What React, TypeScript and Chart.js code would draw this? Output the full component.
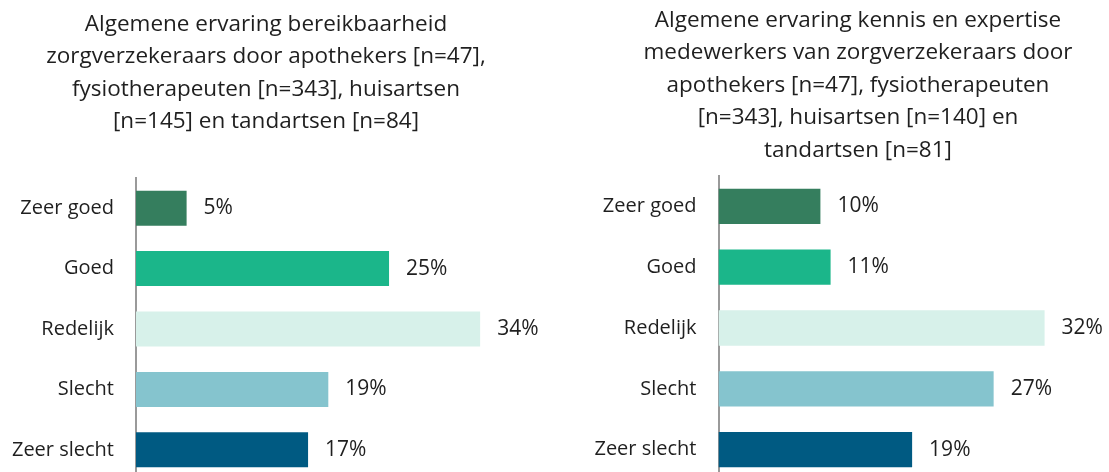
import React, { useEffect, useRef } from "react";
import { Chart, registerables } from "chart.js";

Chart.register(...registerables);

const FONT = "'Open Sans', Lato, sans-serif";
const TEXT_COLOR = "#1f1f1f";

const categories = ["Zeer goed", "Goed", "Redelijk", "Slecht", "Zeer slecht"];
const bereikbaarheidValues = [5, 25, 34, 19, 17];
const kennisValues = [10, 11, 32, 27, 19];
const barColors = ["#357e5e", "#1bb68a", "#d7f1ea", "#85c4ce", "#005a82"];

const titleBereikbaarheid = [
  "Algemene ervaring bereikbaarheid",
  "zorgverzekeraars door apothekers [n=47],",
  "fysiotherapeuten [n=343], huisartsen",
  "[n=145] en tandartsen [n=84]",
];
const titleKennis = [
  "Algemene ervaring kennis en expertise",
  "medewerkers van zorgverzekeraars door",
  "apothekers [n=47], fysiotherapeuten",
  "[n=343], huisartsen [n=140] en",
  "tandartsen [n=81]",
];

const valueLabels = {
  id: "valueLabels",
  afterDatasetsDraw(chart: any) {
    const { ctx } = chart;
    const meta = chart.getDatasetMeta(0);
    const data = chart.data.datasets[0].data as number[];
    ctx.save();
    ctx.font = `21px ${FONT}`;
    ctx.fillStyle = TEXT_COLOR;
    ctx.textAlign = "left";
    ctx.textBaseline = "middle";
    meta.data.forEach((bar: any, i: number) => {
      ctx.fillText(`${data[i]}%`, bar.x + 17, bar.y);
    });
    ctx.restore();
  },
};

type PanelProps = {
  values: number[];
  title: string[];
  left: number;
  width: number;
  height: number;
  axisWidth: number;
  xMax: number;
  titleTop: number;
  titleBottom: number;
};

function BarPanel(p: PanelProps) {
  const ref = useRef<HTMLCanvasElement | null>(null);
  useEffect(() => {
    if (!ref.current) return;
    const chart = new Chart(ref.current, {
      type: "bar",
      data: {
        labels: categories,
        datasets: [
          {
            data: p.values,
            backgroundColor: barColors,
            borderWidth: 0,
            barPercentage: 0.58,
            categoryPercentage: 1,
          },
        ],
      },
      options: {
        indexAxis: "y",
        responsive: false,
        animation: false,
        devicePixelRatio: 1,
        layout: { padding: 0 },
        plugins: {
          legend: { display: false },
          tooltip: { enabled: false },
          title: {
            display: true,
            text: p.title,
            color: TEXT_COLOR,
            font: { family: FONT, size: 22.5, weight: "normal", lineHeight: "32.5px" },
            padding: { top: p.titleTop, bottom: p.titleBottom },
          },
        },
        scales: {
          x: { display: false, min: 0, max: p.xMax },
          y: {
            grid: { display: false, drawTicks: false },
            border: { display: true, color: "#9a9a9a", width: 2 },
            ticks: {
              color: TEXT_COLOR,
              padding: 22,
              font: { family: FONT, size: 20 },
            },
            afterFit: (axis: any) => {
              axis.width = p.axisWidth;
              axis.paddingTop = 0;
              axis.paddingBottom = 0;
            },
          },
        },
      },
      plugins: [valueLabels],
    } as any);
    return () => chart.destroy();
  }, []);
  return (
    <canvas
      ref={ref}
      width={p.width}
      height={p.height}
      style={{ position: "absolute", left: p.left, top: 0, width: p.width, height: p.height, display: "block" }}
    />
  );
}

export default function App() {
  return (
    <div
      style={{
        position: "absolute",
        left: 0,
        top: 0,
        width: 1109,
        height: 472,
        overflow: "hidden",
        background: "#ffffff",
      }}
    >
      <BarPanel
        values={bereikbaarheidValues}
        title={titleBereikbaarheid}
        left={-20}
        width={572}
        height={480}
        axisWidth={156}
        xMax={41.1}
        titleTop={8}
        titleBottom={40}
      />
      <BarPanel
        values={kennisValues}
        title={titleKennis}
        left={580}
        width={556}
        height={480}
        axisWidth={138.5}
        xMax={40.97}
        titleTop={4}
        titleBottom={9.5}
      />
    </div>
  );
}
